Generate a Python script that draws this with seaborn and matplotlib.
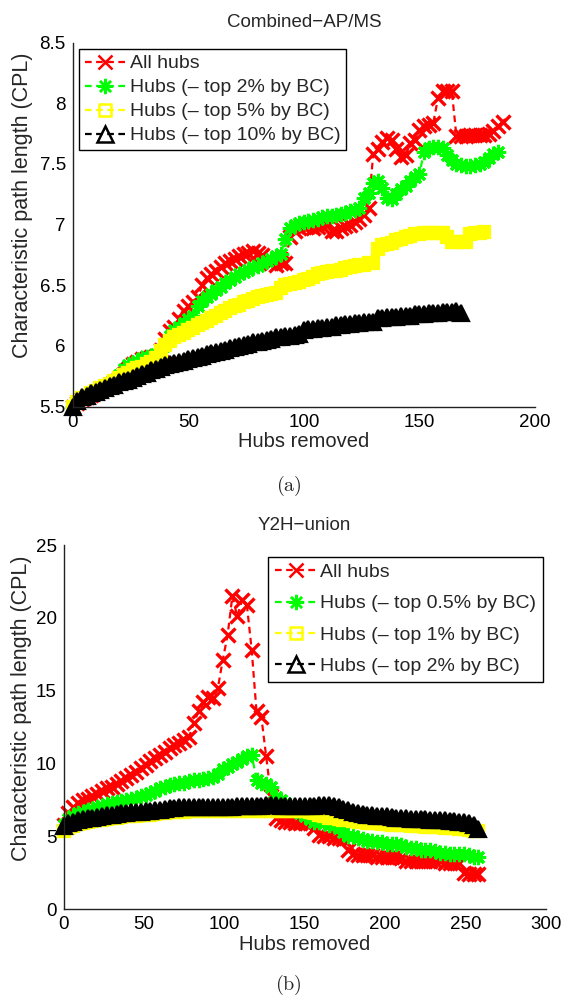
import matplotlib
matplotlib.use("Agg")
import matplotlib.pyplot as plt
from matplotlib.ticker import FuncFormatter
import seaborn as sns

# ---- (a) Combined-AP/MS: CPL after removing hubs (one value every 2 hubs) ----
hubs_all_a = list(range(0, 187, 2))
cpl_all_a = [
    5.50, 5.53, 5.56, 5.58, 5.60, 5.62, 5.64, 5.66, 5.68, 5.70,
    5.73, 5.77, 5.81, 5.85, 5.87, 5.89, 5.90, 5.91, 5.92, 5.97,
    6.06, 6.12, 6.16, 6.22, 6.29, 6.33, 6.36, 6.40, 6.50, 6.56,
    6.59, 6.62, 6.65, 6.68, 6.70, 6.72, 6.74, 6.76, 6.77, 6.78,
    6.77, 6.75, 6.71, 6.68, 6.67, 6.68, 6.68, 6.90, 6.95, 6.97,
    6.98, 6.99, 6.97, 6.98, 6.99, 7.00, 6.95, 6.95, 6.97, 6.99,
    7.00, 7.02, 7.05, 7.08, 7.14, 7.58, 7.62, 7.68, 7.71, 7.70,
    7.62, 7.56, 7.57, 7.67, 7.70, 7.78, 7.81, 7.82, 7.84, 8.04,
    8.10, 8.10, 8.10, 7.73, 7.73, 7.73, 7.74, 7.74, 7.74, 7.74,
    7.75, 7.77, 7.81, 7.85,
]
hubs_top2_a = list(range(0, 185, 2))
cpl_top2_a = [
    5.50, 5.53, 5.56, 5.58, 5.60, 5.62, 5.64, 5.66, 5.68, 5.71,
    5.76, 5.81, 5.84, 5.86, 5.88, 5.90, 5.91, 5.92, 5.93, 5.96,
    6.02, 6.08, 6.13, 6.16, 6.19, 6.22, 6.25, 6.33, 6.37, 6.40,
    6.43, 6.46, 6.49, 6.52, 6.54, 6.57, 6.59, 6.61, 6.63, 6.65,
    6.66, 6.68, 6.70, 6.72, 6.74, 6.76, 6.88, 6.97, 7.00, 7.01,
    7.02, 7.03, 7.04, 7.05, 7.06, 7.07, 7.07, 7.08, 7.09, 7.10,
    7.11, 7.12, 7.14, 7.22, 7.26, 7.34, 7.36, 7.30, 7.22, 7.21,
    7.25, 7.29, 7.32, 7.36, 7.39, 7.42, 7.60, 7.63, 7.64, 7.64,
    7.63, 7.57, 7.53, 7.50, 7.49, 7.48, 7.48, 7.49, 7.50, 7.52,
    7.55, 7.58, 7.60,
]
hubs_top5_a = list(range(0, 179, 2))
cpl_top5_a = [
    5.50, 5.54, 5.57, 5.59, 5.61, 5.63, 5.65, 5.67, 5.69, 5.71,
    5.74, 5.76, 5.78, 5.80, 5.82, 5.83, 5.85, 5.87, 5.90, 5.96,
    6.01, 6.04, 6.07, 6.09, 6.11, 6.13, 6.15, 6.17, 6.19, 6.21,
    6.23, 6.25, 6.27, 6.29, 6.31, 6.33, 6.34, 6.36, 6.37, 6.39,
    6.40, 6.41, 6.42, 6.43, 6.44, 6.48, 6.50, 6.51, 6.52, 6.53,
    6.54, 6.55, 6.57, 6.59, 6.60, 6.61, 6.62, 6.62, 6.63, 6.64,
    6.65, 6.66, 6.67, 6.67, 6.68, 6.68, 6.80, 6.83, 6.84, 6.85,
    6.87, 6.88, 6.90, 6.91, 6.92, 6.92, 6.93, 6.93, 6.93, 6.93,
    6.93, 6.90, 6.86, 6.86, 6.86, 6.86, 6.92, 6.93, 6.93, 6.94,
]
hubs_top10_a = list(range(0, 169, 2))
cpl_top10_a = [
    5.50, 5.55, 5.58, 5.59, 5.61, 5.62, 5.64, 5.65, 5.67, 5.68,
    5.70, 5.71, 5.72, 5.74, 5.75, 5.77, 5.78, 5.80, 5.81, 5.83,
    5.84, 5.85, 5.86, 5.87, 5.88, 5.89, 5.90, 5.91, 5.92, 5.93,
    5.94, 5.95, 5.96, 5.97, 5.98, 5.99, 6.00, 6.01, 6.02, 6.03,
    6.03, 6.04, 6.05, 6.06, 6.07, 6.07, 6.08, 6.08, 6.09, 6.10,
    6.13, 6.14, 6.14, 6.15, 6.15, 6.16, 6.16, 6.17, 6.17, 6.18,
    6.18, 6.19, 6.19, 6.20, 6.20, 6.20, 6.23, 6.23, 6.24, 6.24,
    6.24, 6.25, 6.25, 6.25, 6.26, 6.26, 6.26, 6.27, 6.27, 6.27,
    6.28, 6.28, 6.28, 6.29, 6.27,
]
labels_a = ["All hubs", "Hubs (\u2013 top 2% by BC)",
            "Hubs (\u2013 top 5% by BC)", "Hubs (\u2013 top 10% by BC)"]

# ---- (b) Y2H-union (one value every 3 hubs) ----
hubs_b = list(range(0, 259, 3))
cpl_all_b = [
    5.8, 6.6, 7.0, 7.3, 7.5, 7.6, 7.8, 7.9, 8.1, 8.3,
    8.4, 8.6, 8.8, 9.0, 9.2, 9.4, 9.7, 9.9, 10.2, 10.4,
    10.6, 10.8, 11.1, 11.3, 11.4, 11.6, 11.8, 12.8, 13.6, 14.2,
    14.6, 14.5, 15.2, 17.1, 18.8, 21.5, 20.1, 21.2, 20.9, 17.8,
    13.6, 13.2, 10.5, 7.8, 6.3, 6.1, 6.0, 6.0, 5.9, 5.9,
    5.9, 5.9, 5.6, 5.1, 5.0, 5.0, 4.9, 4.9, 4.8, 4.1,
    3.8, 3.7, 3.7, 3.7, 3.7, 3.6, 3.6, 3.6, 3.6, 3.6,
    3.5, 3.3, 3.3, 3.3, 3.3, 3.3, 3.3, 3.3, 3.3, 3.2,
    3.2, 3.2, 3.2, 2.5, 2.4, 2.4, 2.4,
]
cpl_top05_b = [
    5.8, 6.2, 6.4, 6.6, 6.7, 6.8, 6.9, 7.0, 7.1, 7.2,
    7.3, 7.35, 7.45, 7.5, 7.6, 7.65, 7.75, 7.85, 8.0, 8.15,
    8.3, 8.4, 8.5, 8.6, 8.65, 8.7, 8.8, 8.85, 8.9, 8.95,
    9.0, 9.1, 9.3, 9.6, 9.8, 10.0, 10.1, 10.3, 10.5, 10.6,
    8.9, 8.7, 8.6, 8.4, 7.7, 7.5, 7.3, 7.1, 6.9, 6.6,
    6.4, 6.2, 6.0, 6.0, 5.9, 5.8, 5.8, 5.6, 5.3, 5.0,
    5.0, 4.9, 4.8, 4.7, 4.7, 4.6, 4.6, 4.5, 4.5, 4.5,
    4.4, 4.3, 4.2, 4.2, 4.1, 4.1, 4.1, 4.0, 3.9, 3.9,
    3.8, 3.8, 3.8, 3.8, 3.7, 3.6, 3.6,
]
cpl_top1_b = [
    5.4, 5.6, 5.75, 5.85, 5.95, 6.0, 6.05, 6.1, 6.15, 6.2,
    6.25, 6.3, 6.35, 6.38, 6.4, 6.42, 6.45, 6.48, 6.5, 6.55,
    6.6, 6.62, 6.65, 6.68, 6.7, 6.7, 6.72, 6.72, 6.72, 6.72,
    6.72, 6.72, 6.72, 6.72, 6.72, 6.72, 6.74, 6.75, 6.75, 6.75,
    6.75, 6.75, 6.75, 6.75, 6.75, 6.75, 6.74, 6.73, 6.72, 6.72,
    6.72, 6.65, 6.6, 6.5, 6.4, 6.3, 6.25, 6.2, 6.15, 6.1,
    6.05, 6.0, 5.98, 5.95, 5.92, 5.9, 5.88, 5.85, 5.82, 5.8,
    5.78, 5.76, 5.74, 5.72, 5.7, 5.68, 5.66, 5.64, 5.62, 5.6,
    5.58, 5.56, 5.54, 5.5, 5.45, 5.4, 5.35,
]
cpl_top2_b = [
    5.7, 5.9, 6.0, 6.1, 6.2, 6.25, 6.3, 6.35, 6.4, 6.45,
    6.5, 6.55, 6.6, 6.62, 6.65, 6.68, 6.7, 6.72, 6.75, 6.8,
    6.85, 6.9, 6.95, 6.98, 7.0, 7.0, 7.0, 7.0, 7.0, 7.02,
    7.02, 7.03, 7.03, 7.05, 7.05, 7.05, 7.08, 7.1, 7.1, 7.12,
    7.12, 7.12, 7.13, 7.15, 7.15, 7.12, 7.12, 7.1, 7.1, 7.1,
    7.1, 7.1, 7.12, 7.15, 7.15, 7.15, 7.1, 7.0, 6.9, 6.8,
    6.7, 6.6, 6.55, 6.5, 6.45, 6.42, 6.4, 6.38, 6.35, 6.3,
    6.28, 6.25, 6.22, 6.2, 6.2, 6.18, 6.15, 6.12, 6.1, 6.1,
    6.05, 6.05, 6.0, 6.0, 5.95, 5.8, 5.5,
]
labels_b = ["All hubs", "Hubs (\u2013 top 0.5% by BC)",
            "Hubs (\u2013 top 1% by BC)", "Hubs (\u2013 top 2% by BC)"]

colors = ["#ff0000", "#00ff00", "#ffff00", "#000000"]
markers = ["x", (8, 2, 0), "s", "^"]
sizes = [9.5, 11, 9, 12]
# line markers need thick strokes; box markers are filled so the dense runs read as bands
edge_widths = [2.4, 2.2, 1.6, 1.6]
faces = ["none", "none", "#ffff00", "#000000"]

sns.set_style("white")
plt.rcParams['font.family'] = ['Liberation Sans', 'DejaVu Sans']
plt.rcParams['mathtext.fontset'] = 'cm'


def draw_series(ax, hubs, cpl, i, label):
    sns.lineplot(x=hubs, y=cpl, ax=ax, color=colors[i], linestyle=(0, (3, 2)),
                 linewidth=1.6, marker=markers[i], markersize=sizes[i],
                 markeredgecolor=colors[i], markerfacecolor=faces[i],
                 markeredgewidth=edge_widths[i], label=label, clip_on=False,
                 errorbar=None, sort=False)


def style_axes(ax, xlim, ylim, xticks, yticks, ylab_x):
    ax.set_xlim(*xlim)
    ax.set_ylim(*ylim)
    ax.set_xticks(xticks)
    ax.set_yticks(yticks)
    ax.yaxis.set_major_formatter(FuncFormatter(lambda v, p: f"{v:g}"))
    sns.despine(ax=ax)
    for side in ("left", "bottom"):
        ax.spines[side].set_color("#222222")
        ax.spines[side].set_linewidth(1.0)
    ax.tick_params(direction="in", length=6, width=1, labelsize=13.5,
                   pad=5, colors="black")
    ax.set_xlabel("Hubs removed", fontsize=14.5, labelpad=1)
    ax.set_ylabel("Characteristic path length (CPL)", fontsize=15.5)
    ax.yaxis.set_label_coords(ylab_x, 0.553)


def add_legend(ax, loc, anchor, spacing, pad):
    leg = ax.legend(loc=loc, bbox_to_anchor=anchor, borderaxespad=0,
                    fancybox=False, edgecolor="black", framealpha=1,
                    fontsize=14, handlelength=2.1, handletextpad=0.2,
                    labelspacing=spacing, borderpad=pad, numpoints=1)
    leg.get_frame().set_linewidth(1.0)
    # legend shows the open marker shapes
    for handle in leg.legend_handles:
        handle.set_markerfacecolor("none")
        handle.set_markeredgewidth(1.8)


fig = plt.figure(figsize=(5.64, 9.96), dpi=100)

ax1 = fig.add_axes([0.1289, 0.5917, 0.8197, 0.3655])
for i, (h, c) in enumerate([(hubs_all_a, cpl_all_a), (hubs_top2_a, cpl_top2_a),
                            (hubs_top5_a, cpl_top5_a), (hubs_top10_a, cpl_top10_a)]):
    draw_series(ax1, h, c, i, labels_a[i])
style_axes(ax1, (0, 200), (5.5, 8.5), range(0, 201, 50),
           [5.5, 6, 6.5, 7, 7.5, 8, 8.5], -0.086)
ax1.set_title("Combined\u2212AP/MS", fontsize=13.5, pad=11)
add_legend(ax1, "upper left", (0.0136, 0.9827), 0.33, 0.3)

ax2 = fig.add_axes([0.1126, 0.0870, 0.8555, 0.3658])
for i, c in enumerate([cpl_all_b, cpl_top05_b, cpl_top1_b, cpl_top2_b]):
    draw_series(ax2, hubs_b, c, i, labels_b[i])
style_axes(ax2, (0, 300), (0, 25), range(0, 301, 50), range(0, 26, 5), -0.065)
ax2.set_title("Y2H\u2212union", fontsize=13.5, pad=11)
add_legend(ax2, "upper right", (0.993, 0.968), 0.7, 0.35)

fig.text(0.512, 0.512, r"$\mathrm{(a)}$", ha="center", va="center", fontsize=14.5)
fig.text(0.512, 0.011, r"$\mathrm{(b)}$", ha="center", va="center", fontsize=14.5)

fig.savefig("out.png", dpi=100)
